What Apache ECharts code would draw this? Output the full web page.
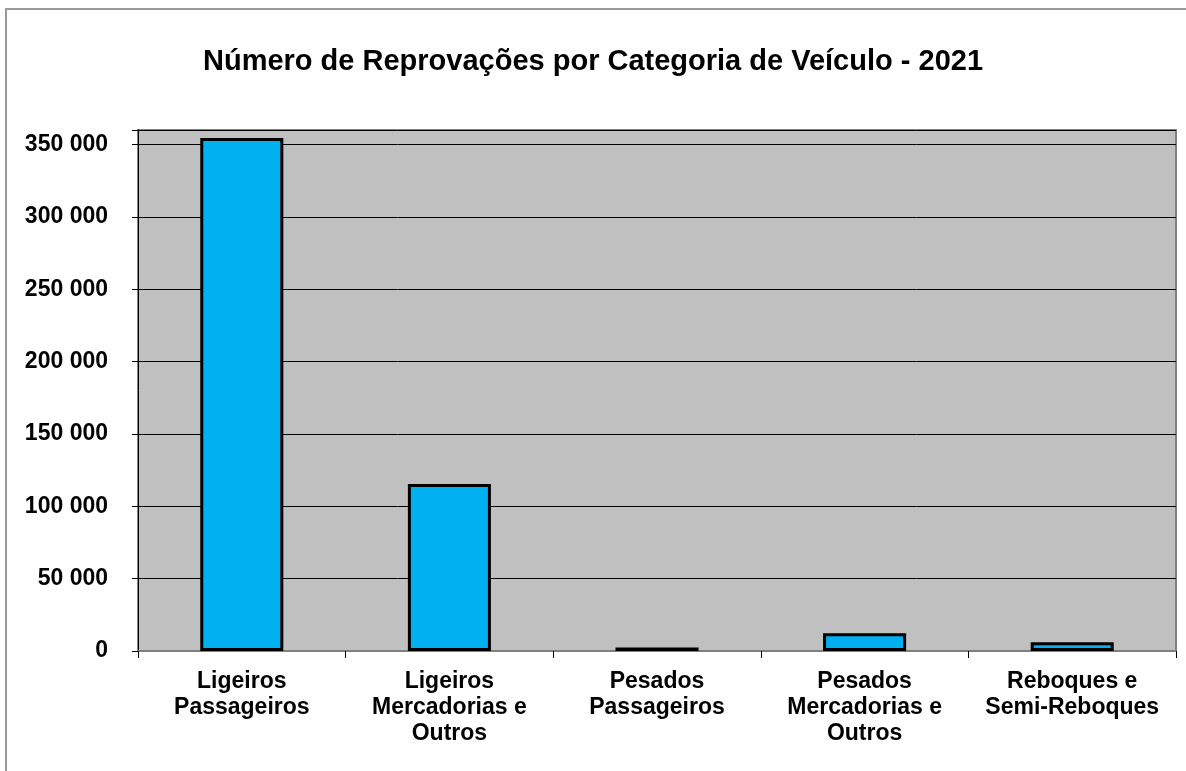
<!DOCTYPE html>
<html>
<head>
<meta charset="utf-8">
<script src="https://cdn.jsdelivr.net/npm/echarts@6/dist/echarts.min.js"></script>
<style>
  html, body { margin: 0; padding: 0; background: #fff; }
  #chart { width: 1186px; height: 771px; }
</style>
</head>
<body>
<div id="chart"></div>
<script>
const categories = [
  "Ligeiros\nPassageiros",
  "Ligeiros\nMercadorias e\nOutros",
  "Pesados\nPassageiros",
  "Pesados\nMercadorias e\nOutros",
  "Reboques e\nSemi-Reboques"
];
const reprovacoes = [354400, 115400, 2500, 12300, 6000];

const myChart = echarts.init(document.getElementById("chart"));
const font = "Liberation Sans, Arial, sans-serif";

const options = {
  animation: false,
  backgroundColor: "#fff",
  title: {
    text: "Número de Reprovações por Categoria de Veículo - 2021",
    left: "center",
    top: 42,
    textStyle: { fontFamily: font, fontSize: 29, fontWeight: "bold", color: "#000" }
  },
  graphic: [
    {
      type: "rect",
      shape: { x: 6, y: 9, width: 1200, height: 800 },
      style: { fill: null, stroke: "#9a9a9a", lineWidth: 2 },
      silent: true,
      z: -1
    }
  ],
  grid: {
    left: 138,
    right: 10,
    top: 130,
    bottom: 120,
    show: true,
    backgroundColor: "#C0C0C0",
    borderColor: "#808080",
    borderWidth: 2
  },
  xAxis: {
    type: "category",
    data: categories,
    axisLine: { lineStyle: { color: "#808080", width: 2 } },
    axisTick: { show: true, alignWithLabel: false, length: 7, lineStyle: { color: "#000" } },
    axisLabel: {
      interval: 0,
      margin: 18,
      fontFamily: font,
      fontSize: 23,
      fontWeight: "bold",
      color: "#000",
      lineHeight: 26
    }
  },
  yAxis: {
    type: "value",
    min: 0,
    max: 360000,
    interval: 50000,
    axisLine: { show: true, lineStyle: { color: "#000", width: 1 } },
    axisTick: { show: true, length: 6, lineStyle: { color: "#000" } },
    splitLine: { lineStyle: { color: "#000", width: 1 } },
    axisLabel: {
      margin: 30,
      fontFamily: font,
      fontSize: 23,
      fontWeight: "bold",
      color: "#000",
      formatter: function (v) {
        if (v % 50000 !== 0) return "";
        return String(v).replace(/\B(?=(\d{3})+(?!\d))/g, " ");
      }
    }
  },
  series: [
    {
      type: "bar",
      data: reprovacoes,
      barWidth: "40%",
      itemStyle: { color: "#00B0F0", borderColor: "#000", borderWidth: 3 }
    }
  ]
};

myChart.setOption(options);
window.onresize = function () {
  myChart.resize();
};
</script>
</body>
</html>
